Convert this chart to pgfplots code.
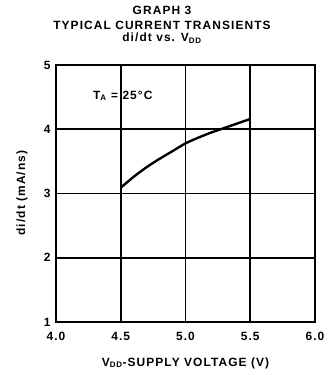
\documentclass[border=0pt]{standalone}
\usepackage{fontspec}
\setmainfont{Liberation Sans}
\newfontfamily\spaced[LetterSpace=9]{Liberation Sans}
\usepackage{pgfplots}
\pgfplotsset{compat=1.18}
\pgfkeys{/pgf/number format/assume math mode=true}
\newcommand{\chartfont}{\spaced\bfseries\fontsize{12}{12}\selectfont}
\begin{document}
\begin{tikzpicture}
\begin{axis}[at={(0,0)}, anchor=south west, scale only axis,
  width=259bp, height=257bp,
  xmin=4, xmax=6, ymin=1, ymax=5,
  xtick={4,4.5,5,5.5,6}, xticklabels={4.0,4.5,5.0,5.5,6.0},
  ytick={1,2,3,4,5},
  grid=major,
  grid style={draw=black, line width=1.7pt},
  axis line style={line width=2.1pt},
  major tick length=0pt,
  ticklabel style={font=\chartfont},
  xticklabel style={anchor=base, yshift=-18bp},
  yticklabel style={anchor=east, xshift=-2bp},
  clip=false]
\addplot[black, line width=2.4pt, smooth] coordinates {
 (4.5,3.09) (4.6,3.26) (4.7,3.41) (4.8,3.54) (4.9,3.66) (5.0,3.78)
 (5.1,3.87) (5.2,3.95) (5.3,4.02) (5.4,4.09) (5.5,4.16)};
\node[anchor=base west, font=\chartfont] at (axis cs:4.26,4.47) {T\textsubscript{A} = 25°C};
\end{axis}
\node[anchor=base, font=\chartfont] at (129.5bp,-44bp) {V\textsubscript{DD}-SUPPLY VOLTAGE (V)};
\node[anchor=center, rotate=90, font=\chartfont] at (-34bp,129bp) {di/dt (mA/ns)};
\node[anchor=base, font=\chartfont] at (106bp,307bp) {GRAPH 3};
\node[anchor=base, font=\chartfont] at (106bp,292bp) {TYPICAL CURRENT TRANSIENTS};
\node[anchor=base, font=\chartfont] at (106bp,280bp) {di/dt vs. V\textsubscript{DD}};
\path[use as bounding box] (-56bp,-53bp) rectangle (278bp,322bp);
\end{tikzpicture}
\end{document}
